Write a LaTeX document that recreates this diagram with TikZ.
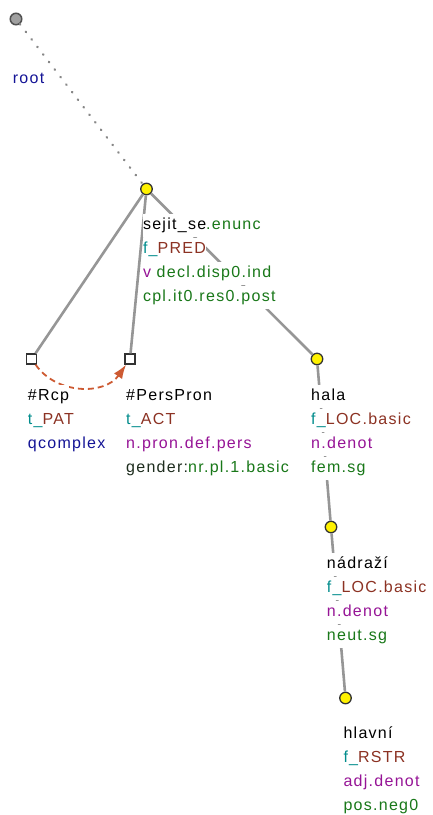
\documentclass[tikz,border=0pt]{standalone}
\usepackage{fontspec}
\setmainfont[LetterSpace=8]{Liberation Sans}
\usetikzlibrary{arrows.meta}
\definecolor{cgreen}{RGB}{25,120,25}
\definecolor{cteal}{RGB}{0,140,140}
\definecolor{cbrown}{RGB}{140,50,35}
\definecolor{cpurple}{RGB}{150,20,150}
\definecolor{cblue}{RGB}{20,20,150}
\definecolor{cedge}{RGB}{150,150,150}
\definecolor{cdots}{RGB}{135,135,135}
\definecolor{cborder}{RGB}{50,50,50}
\definecolor{crel}{RGB}{205,90,50}
\definecolor{cgender}{RGB}{30,45,30}
\definecolor{crootfill}{RGB}{160,160,160}
\tikzset{
  yel/.style={circle, fill=yellow, draw=cborder, line width=1.3pt, minimum size=11.5pt, inner sep=0pt},
  rootnode/.style={circle, fill=crootfill, draw=cborder!85, line width=1.5pt, minimum size=11.5pt, inner sep=0pt},
  sq/.style={rectangle, fill=white, draw=cborder, line width=1.3pt, minimum size=10pt, inner sep=0pt},
  edge/.style={draw=cedge, line width=2.6pt},
  rootedge/.style={draw=cdots, line width=2.4pt, line cap=round, dash pattern=on 0.5pt off 9pt},
  rel/.style={draw=crel, line width=1.8pt, dash pattern=on 6pt off 4pt, -{Latex[length=14pt,width=10pt]}},
  lab/.style={anchor=base west, inner xsep=0pt, inner ysep=2.5pt, fill=white, text height=12.5pt, text depth=5.5pt, font=\fontsize{16}{19}\selectfont},
}
\begin{document}
\begin{tikzpicture}[x=1pt,y=-1pt]
\useasboundingbox (0,0) rectangle (433,815);
% nodes
\node[rootnode] (root) at (16,19) {};
\node[yel] (sejit) at (146.5,189) {};
\node[sq] (rcp) at (31.7,359) {};
\node[sq] (pp) at (130,359) {};
\node[yel] (hala) at (317,359) {};
\node[yel] (nadrazi) at (331,527) {};
\node[yel] (hlavni) at (345.5,698) {};
% edges
\draw[rootedge] (root) -- (sejit);
\draw[edge] (sejit) -- (rcp);
\draw[edge] (sejit) -- (pp);
\draw[edge] (sejit) -- (hala);
\draw[edge] (hala) -- (nadrazi);
\draw[edge] (nadrazi) -- (hlavni);
\draw[rel] (rcp) .. controls +(25,36) and +(-25,36) .. (pp);
% labels
\node[lab, text=cblue] (rootl) at ([xshift=-3.3pt,yshift=-64pt]root.center) {root};

\node[lab] (s1) at ([xshift=-3.7pt,yshift=-40pt]sejit.center) {sejit\_se\textcolor{cgreen}{.enunc}};
\node[lab] (s2) at ([yshift=-24pt]s1.base west) {\textcolor{cteal}{f\_}\textcolor{cbrown}{PRED}};
\node[lab] (s3) at ([yshift=-24pt]s2.base west) {\textcolor{cpurple}{v} \textcolor{cgreen}{decl.disp0.ind}};
\node[lab] (s4) at ([yshift=-24pt]s3.base west) {\textcolor{cgreen}{cpl.it0.res0.post}};

\node[lab] (r1) at ([xshift=-4pt,yshift=-41pt]rcp.center) {\#Rcp};
\node[lab] (r2) at ([yshift=-24pt]r1.base west) {\textcolor{cteal}{t\_}\textcolor{cbrown}{PAT}};
\node[lab] (r3) at ([yshift=-24pt]r2.base west) {\textcolor{cblue}{qcomplex}};

\node[lab] (p1) at ([xshift=-4pt,yshift=-41pt]pp.center) {\#PersPron};
\node[lab] (p2) at ([yshift=-24pt]p1.base west) {\textcolor{cteal}{t\_}\textcolor{cbrown}{ACT}};
\node[lab] (p3) at ([yshift=-24pt]p2.base west) {\textcolor{cpurple}{n.pron.def.pers}};
\node[lab] (p4) at ([yshift=-24pt]p3.base west) {\textcolor{cgender}{gender:}\textcolor{cgreen}{nr.pl.1.basic}};

\node[lab] (h1) at ([xshift=-6pt,yshift=-41pt]hala.center) {hala};
\node[lab] (h2) at ([yshift=-24pt]h1.base west) {\textcolor{cteal}{f\_}\textcolor{cbrown}{LOC.basic}};
\node[lab] (h3) at ([yshift=-24pt]h2.base west) {\textcolor{cpurple}{n.denot}};
\node[lab] (h4) at ([yshift=-24pt]h3.base west) {\textcolor{cgreen}{fem.sg}};

\node[lab] (n1) at ([xshift=-4.3pt,yshift=-41pt]nadrazi.center) {nádraží};
\node[lab] (n2) at ([yshift=-24pt]n1.base west) {\textcolor{cteal}{f\_}\textcolor{cbrown}{LOC.basic}};
\node[lab] (n3) at ([yshift=-24pt]n2.base west) {\textcolor{cpurple}{n.denot}};
\node[lab] (n4) at ([yshift=-24pt]n3.base west) {\textcolor{cgreen}{neut.sg}};

\node[lab] (l1) at ([xshift=-2.2pt,yshift=-40pt]hlavni.center) {hlavní};
\node[lab] (l2) at ([yshift=-24pt]l1.base west) {\textcolor{cteal}{f\_}\textcolor{cbrown}{RSTR}};
\node[lab] (l3) at ([yshift=-24pt]l2.base west) {\textcolor{cpurple}{adj.denot}};
\node[lab] (l4) at ([yshift=-24pt]l3.base west) {\textcolor{cgreen}{pos.neg0}};
\end{tikzpicture}
\end{document}
